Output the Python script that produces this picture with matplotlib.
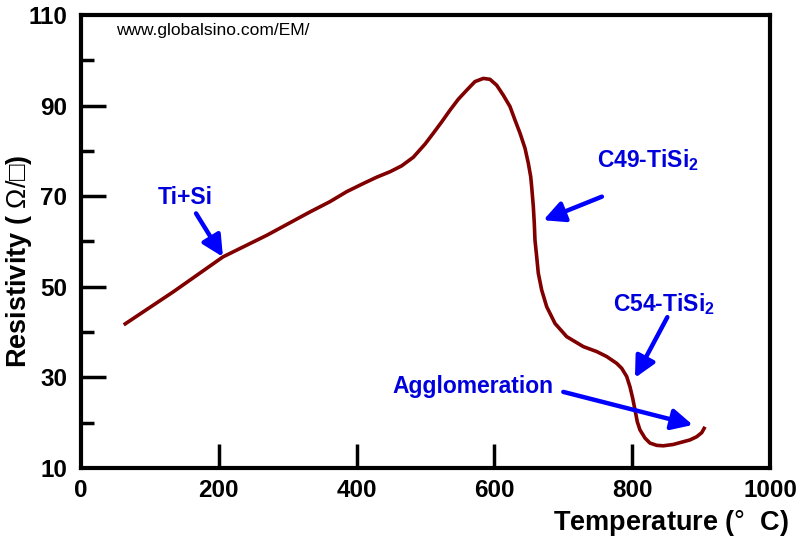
import matplotlib
matplotlib.use("Agg")
import matplotlib.pyplot as plt
from matplotlib.ticker import MultipleLocator

plt.rcParams['font.family'] = ['Liberation Sans', 'DejaVu Sans']
plt.rcParams['mathtext.fontset'] = 'custom'
plt.rcParams['mathtext.rm'] = 'Liberation Sans'
plt.rcParams['mathtext.it'] = 'Liberation Sans:italic'
plt.rcParams['mathtext.bf'] = 'Liberation Sans:bold'

# Data
temperature = [62, 134, 206, 270, 332, 361.4, 385.6, 409.7, 429.2, 448.5, 465.4, 482.3,
               499.3, 511.3, 523.5, 535.6, 547.6, 559.8, 571.8, 583.9, 593.6, 603.3,
               612.9, 622.6, 629.9, 637.2, 644.4, 649.2, 652.7, 654.1, 656.5, 657.9,
               658.9, 661.4, 663.7, 668.6, 675.9, 688.0, 704.9, 729.0, 748.5, 763.0,
               777.5, 784.8, 792.0, 796.8, 800.7, 804.1, 807.4, 811.3, 818.6, 825.8,
               835.6, 845.1, 859.7, 874.2, 883.9, 893.6, 900.9, 905.7]
resistivity = [41.6, 48.9, 56.6, 61.4, 66.5, 68.8, 71.0, 72.8, 74.2, 75.4, 76.7, 78.6,
               81.5, 83.9, 86.4, 89.0, 91.4, 93.4, 95.3, 96.0, 95.8, 94.5,
               92.3, 89.8, 86.8, 83.9, 80.6, 77.3, 74.3, 72.1, 67.7, 64.0,
               60.3, 56.6, 53.0, 49.3, 45.6, 41.9, 39.0, 36.8, 35.7, 34.6,
               33.1, 32.0, 30.2, 27.9, 25.4, 22.8, 20.2, 18.4, 16.6, 15.5,
               15.0, 14.9, 15.2, 15.8, 16.2, 16.9, 17.8, 19.1]

x_ticks = [0, 200, 400, 600, 800, 1000]
y_ticks = [10, 30, 50, 70, 90, 110]

labels = ["Ti+Si", r"C49-TiSi$_\mathbf{2}$", r"C54-TiSi$_\mathbf{2}$", "Agglomeration"]
label_pos = [(151, 69.8), (823, 78.0), (846, 46.2), (569, 27.9)]
arrow_tail = [(167, 66.2), (756, 69.9), (851, 43.3), (700, 26.8)]
arrow_head = [(206, 56.6), (671, 64.7), (804, 29.9), (888, 19.5)]

fig = plt.figure(figsize=(8.04, 5.42), dpi=100)
ax = fig.add_axes([81/804, 1 - 468/542, (770-81)/804, (468-15)/542])

ax.plot(temperature, resistivity, color='#800000', lw=2.6, solid_joinstyle='round',
        solid_capstyle='butt')

ax.set_xlim(0, 1000)
ax.set_ylim(10, 110)
ax.set_xticks(x_ticks)
ax.set_yticks(y_ticks)
ax.yaxis.set_minor_locator(MultipleLocator(10))

for s in ax.spines.values():
    s.set_linewidth(3)
ax.tick_params(axis='both', which='major', direction='in', width=2.5, labelsize=17.5)
ax.tick_params(axis='y', which='major', length=18, pad=10)
ax.tick_params(axis='x', which='major', length=17, pad=8)
ax.tick_params(axis='y', which='minor', direction='in', length=9, width=2.5)
ax.tick_params(top=False, right=False)
for lab in ax.get_xticklabels() + ax.get_yticklabels():
    lab.set_fontweight('bold')
# hide ticks at the very ends of the axes (they coincide with the spines)
xt = ax.xaxis.get_major_ticks()
xt[0].tick1line.set_visible(False)
xt[-1].tick1line.set_visible(False)
yt = ax.yaxis.get_major_ticks()
yt[0].tick1line.set_visible(False)
yt[-1].tick1line.set_visible(False)

fig.text(789/804, 1 - 523/542, r"Temperature ($\mathrm{°}$  C)", ha='right', va='center',
         fontsize=19.5, fontweight='bold')
fig.text(19/804, 1 - 261/542, r"Resistivity ( $\mathrm{Ω/□}$)", ha='center', va='center',
         rotation=90, fontsize=19.5, fontweight='bold')

ax.text(0.051, 0.965, "www.globalsino.com/EM/", transform=ax.transAxes, ha='left',
        va='center', fontsize=12.5, color='black')

blue = '#0000ff'
for txt, pos, tail, head in zip(labels, label_pos, arrow_tail, arrow_head):
    ax.text(pos[0], pos[1], txt, color='#0000dd', fontsize=16.5, fontweight='bold',
            ha='center', va='center')
    ax.annotate("", xy=head, xytext=tail,
                arrowprops=dict(arrowstyle='-|>,head_length=0.7,head_width=0.35',
                                color=blue, lw=3.2, mutation_scale=18,
                                shrinkA=0, shrinkB=0))

fig.savefig("out.png", dpi=100)
